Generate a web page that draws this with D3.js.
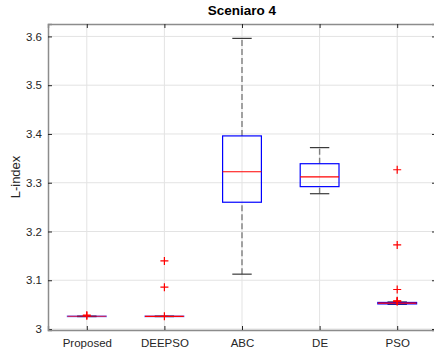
<!DOCTYPE html>
<html>
<head>
<meta charset="utf-8">
<script src="https://cdn.jsdelivr.net/npm/d3@7"></script>
<style>
  body { margin: 0; background: #fff; }
  text { font-family: "Liberation Sans", Arial, sans-serif; }
</style>
</head>
<body>
<script>
// data
var categories = ["Proposed", "DEEPSO", "ABC", "DE", "PSO"];
var q1 =        [3.0255, 3.0255, 3.260, 3.292, 3.0515];
var medians =   [3.026,  3.026,  3.3225, 3.312, 3.0530];
var q3 =        [3.0265, 3.0265, 3.396, 3.339, 3.0545];
var lowWhisk =  [3.0255, 3.0255, 3.1125, 3.2775, 3.0505];
var highWhisk = [3.0265, 3.0265, 3.596, 3.372, 3.0555];
var outliers = [
  [3.0285, 3.0270],
  [3.1397, 3.0859, 3.0262],
  [],
  [],
  [3.3266, 3.1724, 3.0811, 3.0580, 3.0570, 3.0565]
];
var yTicks = [3, 3.1, 3.2, 3.3, 3.4, 3.5, 3.6];

var width = 434, height = 356;
var margin = {left: 48, top: 24, right: -2, bottom: 26};
var pw = width - margin.left - margin.right,
    ph = height - margin.top - margin.bottom;

var svg = d3.select("body").append("svg")
    .attr("width", width)
    .attr("height", height);

var g = svg.append("g")
    .attr("transform", "translate(" + margin.left + "," + margin.top + ")");

var x = d3.scaleLinear().domain([0.5, 5.5]).range([0, pw]);
var y = d3.scaleLinear().domain([2.998, 3.6255]).range([ph, 0]);

// grid
g.append("g").selectAll("line.gy")
    .data(yTicks).enter().append("line")
    .attr("x1", 0).attr("x2", pw)
    .attr("y1", function(d){ return y(d); })
    .attr("y2", function(d){ return y(d); })
    .attr("stroke", "#e3e3e3").attr("stroke-width", 1);
g.append("g").selectAll("line.gx")
    .data(categories).enter().append("line")
    .attr("x1", function(d, i){ return x(i + 1); })
    .attr("x2", function(d, i){ return x(i + 1); })
    .attr("y1", 0).attr("y2", ph)
    .attr("stroke", "#e3e3e3").attr("stroke-width", 1);

// axes
var yAxis = d3.axisLeft(y).tickValues(yTicks).tickSize(-4).tickPadding(6)
    .tickFormat(function(d){ return d3.format("")(+d.toFixed(1)); });
var yg = g.append("g").call(yAxis);
var xAxis = d3.axisBottom(x).tickValues([1, 2, 3, 4, 5]).tickSize(-4).tickPadding(9)
    .tickFormat(function(d){ return categories[d - 1]; });
var xg = g.append("g").attr("transform", "translate(0," + ph + ")").call(xAxis);
var xTop = d3.axisTop(x).tickValues([1, 2, 3, 4, 5]).tickSize(-4).tickFormat("");
var xtg = g.append("g").call(xTop);
var yRight = d3.axisRight(y).tickValues(yTicks).tickSize(-4).tickFormat("");
var yrg = g.append("g").attr("transform", "translate(" + pw + ",0)").call(yRight);

[yg, xg, xtg, yrg].forEach(function(a){
  a.select(".domain").attr("stroke", "#8c8c8c").attr("stroke-width", 1.5);
  a.selectAll(".tick line").attr("stroke", "#262626");
  a.selectAll(".tick text").attr("fill", "#262626").style("font-size", "11.5px");
});

// boxes
var boxHalf = 0.25, capHalf = 0.125;
var boxes = g.append("g");
categories.forEach(function(c, i){
  var cx = i + 1;
  // whiskers
  [[q3[i], highWhisk[i]], [lowWhisk[i], q1[i]]].forEach(function(w){
    boxes.append("line")
      .attr("x1", x(cx)).attr("x2", x(cx))
      .attr("y1", y(w[0])).attr("y2", y(w[1]))
      .attr("stroke", "#7f7f7f").attr("stroke-width", 1.4)
      .attr("stroke-dasharray", "6,3");
  });
  [highWhisk[i], lowWhisk[i]].forEach(function(v){
    boxes.append("line")
      .attr("x1", x(cx - capHalf)).attr("x2", x(cx + capHalf))
      .attr("y1", y(v)).attr("y2", y(v))
      .attr("stroke", "#3a3a3a").attr("stroke-width", 1.2);
  });
  boxes.append("rect")
    .attr("x", x(cx - boxHalf))
    .attr("y", y(q3[i]))
    .attr("width", x(cx + boxHalf) - x(cx - boxHalf))
    .attr("height", Math.max(0.5, y(q1[i]) - y(q3[i])))
    .attr("fill", "none")
    .attr("stroke", "#0000ff").attr("stroke-width", 1.2)
    .attr("stroke-opacity", i < 2 ? 0.6 : 1);
  boxes.append("line")
    .attr("x1", x(cx - boxHalf)).attr("x2", x(cx + boxHalf))
    .attr("y1", y(medians[i])).attr("y2", y(medians[i]))
    .attr("stroke", "#ff0000").attr("stroke-width", 1.2)
    .attr("stroke-opacity", i == 0 ? 0.6 : 1);
  outliers[i].forEach(function(v){
    var px = x(cx), py = y(v), s = 4;
    boxes.append("path")
      .attr("d", "M" + (px - s) + "," + py + "H" + (px + s) + "M" + px + "," + (py - s) + "V" + (py + s))
      .attr("stroke", "#ff0000").attr("stroke-width", 1.2);
  });
});

// title and label
svg.append("text")
    .attr("x", margin.left + x(3)).attr("y", 15)
    .attr("text-anchor", "middle")
    .style("font-size", "13.5px").style("font-weight", "bold")
    .attr("fill", "#000")
    .text("Sceniaro 4");
svg.append("text")
    .attr("transform", "translate(20," + (margin.top + ph / 2) + ") rotate(-90)")
    .attr("text-anchor", "middle")
    .style("font-size", "13px")
    .attr("fill", "#262626")
    .text("L-index");
</script>
</body>
</html>
